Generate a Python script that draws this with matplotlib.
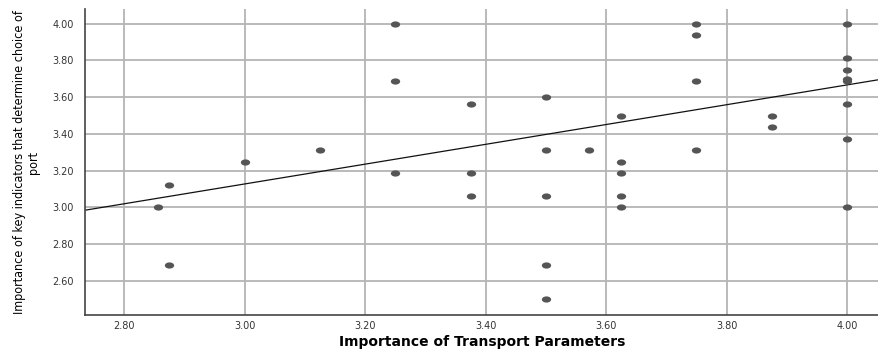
import numpy as np
import matplotlib.pyplot as plt
from matplotlib.path import Path
from matplotlib.transforms import Affine2D

transporte = [2.857, 2.875, 2.875, 3.00, 3.125,
              3.25, 3.25, 3.25, 3.375, 3.375, 3.375,
              3.50, 3.50, 3.50, 3.50, 3.50, 3.571,
              3.625, 3.625, 3.625, 3.625, 3.625,
              3.75, 3.75, 3.75, 3.75, 3.875, 3.875,
              4.00, 4.00, 4.00, 4.00, 4.00, 4.00, 4.00, 4.00]
indicadores = [3.00, 3.125, 2.6875, 3.25, 3.3125,
               4.00, 3.6875, 3.1875, 3.5625, 3.1875, 3.0625,
               3.60, 3.3125, 3.0625, 2.6875, 2.50, 3.3125,
               3.50, 3.25, 3.1875, 3.0625, 3.00,
               4.00, 3.9375, 3.6875, 3.3125, 3.50, 3.4375,
               4.00, 3.8125, 3.75, 3.70, 3.6875, 3.5625, 3.375, 3.00]
xticks = [2.80, 3.00, 3.20, 3.40, 3.60, 3.80, 4.00]
yticks = [2.60, 2.80, 3.00, 3.20, 3.40, 3.60, 3.80, 4.00]

# reta de ajuste (y = a + b*x)
intercepto = 1.511
inclinacao = 0.539

fig = plt.figure(figsize=(8.79, 3.5), dpi=100)
ax = fig.add_axes([85/879, 35/350, 1 - 85/879, 306/350])

elipse = Path.unit_circle().transformed(Affine2D().scale(1.5, 1.0))
ax.scatter(transporte, indicadores, marker=elipse, s=45, color='#555555', zorder=3, linewidths=0)

xlim = (2.735, 4.053)
xs = np.array(xlim)
ax.plot(xs, intercepto + inclinacao*xs, color='#111111', lw=0.9, zorder=2)

ax.set_xlim(*xlim)
ax.set_ylim(2.415, 4.08)
ax.set_xticks(xticks)
ax.set_xticklabels([f'{v:.2f}' for v in xticks])
ax.set_yticks(yticks)
ax.set_yticklabels([f'{v:.2f}' for v in yticks])
ax.tick_params(length=0, labelsize=7, colors='#333333')
ax.tick_params(axis='x', pad=4.5)
ax.tick_params(axis='y', pad=8)
ax.grid(True, color='#b4b4b4', lw=1.3)
ax.set_axisbelow(True)
for lado in ['top', 'right']:
    ax.spines[lado].set_visible(False)
for lado in ['left', 'bottom']:
    ax.spines[lado].set_color('#444444')
    ax.spines[lado].set_linewidth(1.2)

ax.set_xlabel('Importance of Transport Parameters', fontsize=10, fontweight='bold',
              family=['DejaVu Sans'], labelpad=3)
ax.set_ylabel('Importance of key indicators that determine choice of\nport', fontsize=9,
              family=['Liberation Sans Narrow', 'DejaVu Sans'], fontstretch='condensed',
              labelpad=9, linespacing=1.1)

fig.savefig('out.png', dpi=100)
